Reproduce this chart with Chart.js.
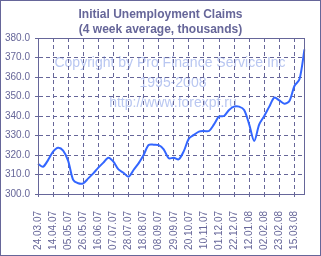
<!DOCTYPE html>
<html>
<head>
<meta charset="utf-8">
<script src="https://cdn.jsdelivr.net/npm/chart.js@4/dist/chart.umd.min.js"></script>
<style>
html,body{margin:0;padding:0;background:#ffffff;}
canvas{display:block;}
</style>
</head>
<body>
<canvas id="c" width="321" height="256"></canvas>
<script>
const weeks = ["24.03.07","31.03.07","07.04.07","14.04.07","21.04.07","28.04.07","05.05.07","12.05.07","19.05.07","26.05.07",
"02.06.07","09.06.07","16.06.07","23.06.07","30.06.07","07.07.07","14.07.07","21.07.07","28.07.07","04.08.07",
"11.08.07","18.08.07","25.08.07","01.09.07","08.09.07","15.09.07","22.09.07","29.09.07","06.10.07","13.10.07",
"20.10.07","27.10.07","03.11.07","10.11.07","17.11.07","24.11.07","01.12.07","08.12.07","15.12.07","22.12.07",
"29.12.07","05.01.08","12.01.08","19.01.08","26.01.08","02.02.08","09.02.08","16.02.08","23.02.08","01.03.08",
"08.03.08","15.03.08","22.03.08","29.03.08"];
const claims = [315.5,314.0,317.4,321.7,323.7,322.2,317.0,307.2,305.5,305.5,
308.0,310.6,313.5,316.1,318.6,316.6,312.6,310.9,308.9,312.3,
315.7,320.0,325.1,325.3,325.1,322.9,318.3,318.6,317.8,322.0,
328.4,330.3,332.0,332.3,332.3,335.7,339.7,340.0,343.1,344.8,
344.8,343.1,335.7,327.2,335.7,340.0,344.8,349.4,348.0,346.3,
347.7,355.4,358.8,374.2];
const labelEvery = 3;
const titleLines = ["Initial Unemployment Claims","(4 week average, thousands)"];
const watermark = ["Copyright by Pro Finance Service Inc","1995-2008","http://www.forexpf.ru"];

const AX = '#666699';
const FONT = "'Liberation Sans', Arial, sans-serif";

const framePlugin = {
  id: 'frame',
  beforeDraw(chart) {
    const ctx = chart.ctx;
    ctx.save();
    ctx.fillStyle = '#ffffff';
    ctx.fillRect(0, 0, chart.width, chart.height);
    ctx.font = '14px ' + FONT;
    ctx.fillStyle = '#b9c7f1';
    ctx.textAlign = 'center';
    ctx.textBaseline = 'alphabetic';
    ctx.fillText(watermark[0], 170, 67);
    ctx.fillText(watermark[1], 173, 87);
    ctx.fillText(watermark[2], 173, 107);
    ctx.fillStyle = AX;
    ctx.font = 'bold 12px ' + FONT;
    ctx.textBaseline = 'middle';
    ctx.fillText(titleLines[0], 160.5, 15);
    ctx.fillText(titleLines[1], 160.5, 30);
    ctx.restore();
  },
  afterDraw(chart) {
    const ctx = chart.ctx;
    const a = chart.chartArea;
    ctx.save();
    ctx.strokeStyle = AX;
    ctx.lineWidth = 1;
    ctx.setLineDash([]);
    ctx.strokeRect(Math.round(a.left) + 0.5, Math.round(a.top) + 0.5,
                   Math.round(a.right - a.left), Math.round(a.bottom - a.top));
    ctx.strokeRect(0.5, 0.5, chart.width - 1, chart.height - 1);
    ctx.restore();
  }
};

new Chart(document.getElementById('c'), {
  type: 'line',
  data: {
    labels: weeks,
    datasets: [{
      data: claims,
      borderColor: '#3366ff',
      borderWidth: 2,
      pointRadius: 0,
      tension: 0.3,
      fill: false
    }]
  },
  options: {
    responsive: false,
    devicePixelRatio: 1,
    animation: false,
    layout: { padding: { left: 0, right: 15, top: 38, bottom: 0 } },
    plugins: {
      legend: { display: false },
      tooltip: { enabled: false },
      title: { display: false }
    },
    scales: {
      x: {
        type: 'category',
        offset: false,
        afterFit(s) { s.height = 62; },
        grid: {
          color: AX,
          lineWidth: 1,
          tickLength: 3,
          tickBorderDash: [],
          drawOnChartArea: true
        },
        border: { display: true, color: AX, width: 1, dash: [4, 3] },
        ticks: {
          autoSkip: false,
          maxRotation: 90,
          minRotation: 90,
          padding: 14,
          color: AX,
          font: { family: FONT, size: 10 },
          callback(v, i) { return i % labelEvery === 0 ? weeks[i] : null; }
        }
      },
      y: {
        min: 300,
        max: 380,
        afterFit(s) { s.width = 38; },
        grid: {
          color: AX,
          lineWidth: 1,
          tickLength: 3,
          tickBorderDash: []
        },
        border: { display: true, color: AX, width: 1, dash: [4, 3] },
        ticks: {
          stepSize: 5,
          padding: 5,
          color: AX,
          font: { family: FONT, size: 10 },
          callback(v) { return Number(v).toFixed(1); }
        }
      }
    }
  },
  plugins: [framePlugin]
});
</script>
</body>
</html>
